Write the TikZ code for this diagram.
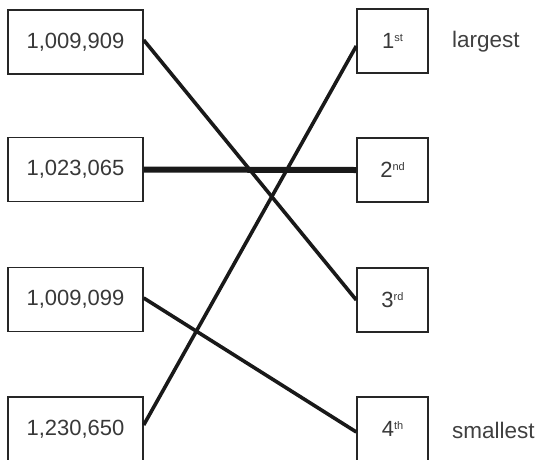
\documentclass[tikz,border=0pt]{standalone}
\usepackage{fontspec}
\setmainfont{Liberation Sans}
\newcommand{\ordsup}[1]{\raisebox{7pt}{\fontsize{11}{11}\selectfont #1}}
\begin{document}
\begin{tikzpicture}[x=1pt,y=-1pt,
  numbox/.style={draw=black!85, line width=1.4pt, minimum width=135pt, minimum height=64pt, inner sep=0pt, text=black!78, font=\fontsize{22}{26}\selectfont},
  rankbox/.style={draw=black!85, line width=1.4pt, minimum width=71pt, minimum height=64pt, inner sep=0pt, text=black!78, font=\fontsize{22}{26}\selectfont},
  lbl/.style={text=black!75, font=\fontsize{22.5}{26}\selectfont, inner sep=0pt},
  conn/.style={line width=3.6pt, black!90},
  thickconn/.style={line width=6pt, black!90}]
\useasboundingbox (0,0) rectangle (536,459);
\node[numbox] (l1) at (75.5,42) {1,009,909};
\node[numbox] (l2) at (75.5,169.5) {1,023,065};
\node[numbox] (l3) at (75.5,299.5) {1,009,099};
\node[numbox] (l4) at (75.5,429) {1,230,650};
\node[rankbox] (r1) at (392.5,41) {1\ordsup{st}};
\node[rankbox] (r2) at (392.5,170) {2\ordsup{nd}};
\node[rankbox] (r3) at (392.5,300) {3\ordsup{rd}};
\node[rankbox] (r4) at (392.5,429) {4\ordsup{th}};
\node[lbl, anchor=west] (lg) at (452,42) {largest};
\node[lbl, anchor=west] (sm) at (452,430) {smallest};
\draw[conn] ([yshift=2pt]l1.east) -- (r3.west);
\draw[thickconn] (l2.east) -- (r2.west);
\draw[conn] ([yshift=1.5pt]l3.east) -- ([yshift=-3pt]r4.west);
\draw[conn] ([yshift=4pt]l4.east) -- ([yshift=-5pt]r1.west);
\end{tikzpicture}
\end{document}
